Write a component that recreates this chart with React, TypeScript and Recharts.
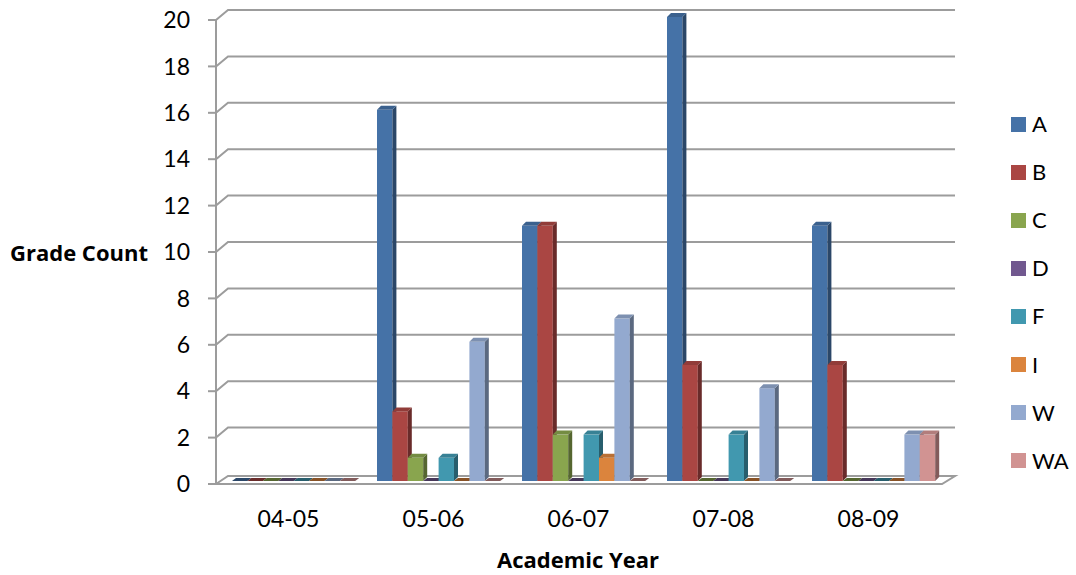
import React from 'react';
import { BarChart, Bar, XAxis, YAxis, CartesianGrid, Label } from 'recharts';

const categories = ['04-05', '05-06', '06-07', '07-08', '08-09'];
const gradeA = [0, 16, 11, 20, 11];
const gradeB = [0, 3, 11, 5, 5];
const gradeC = [0, 1, 2, 0, 0];
const gradeD = [0, 0, 0, 0, 0];
const gradeF = [0, 1, 2, 2, 0];
const gradeI = [0, 0, 1, 0, 0];
const gradeW = [0, 6, 7, 4, 2];
const gradeWA = [0, 0, 0, 0, 2];
const yTicks = [0, 2, 4, 6, 8, 10, 12, 14, 16, 18, 20];

const seriesNames = ['A', 'B', 'C', 'D', 'F', 'I', 'W', 'WA'];
const seriesValues = [gradeA, gradeB, gradeC, gradeD, gradeF, gradeI, gradeW, gradeWA];
const seriesColors = ['#4572A7', '#AA4643', '#89A54E', '#71588F', '#4198AF', '#DB843D', '#93A9CF', '#D19392'];

const data = categories.map((c, i) => {
  const row: any = { year: c };
  seriesNames.forEach((s, j) => {
    row[s] = seriesValues[j][i];
  });
  return row;
});

const FONT = 'Lato, "Open Sans", sans-serif';
const TITLE_FONT = '"Open Sans", Lato, sans-serif';
const GRID = '#9c9c9c';
const DX = 12;
const DY = 9;

function shade(hex: string, f: number) {
  const n = parseInt(hex.slice(1), 16);
  const r = Math.round(((n >> 16) & 255) * f);
  const g = Math.round(((n >> 8) & 255) * f);
  const b = Math.round((n & 255) * f);
  return `rgb(${r},${g},${b})`;
}

const makeShape = (color: string) => (props: any) => {
  const { x, y, width, height } = props;
  const d = 4;
  const bx = x + 5;
  const by = y - 3;
  const side = shade(color, 0.62);
  const top = shade(color, 0.85);
  if (!height || height < 1) {
    const base = by + (height || 0);
    return (
      <polygon
        points={`${bx},${base} ${bx + width},${base} ${bx + width + d},${base - 3} ${bx + d},${base - 3}`}
        fill={side}
      />
    );
  }
  return (
    <g>
      <rect x={bx} y={by} width={width} height={height} fill={color} />
      <polygon
        points={`${bx + width},${by} ${bx + width + d},${by - d} ${bx + width + d},${by + height - d} ${bx + width},${by + height}`}
        fill={side}
      />
      <polygon
        points={`${bx},${by} ${bx + d},${by - d} ${bx + width + d},${by - d} ${bx + width},${by}`}
        fill={top}
      />
    </g>
  );
};

const gridLine = (props: any) => {
  const { x1, y1, x2 } = props;
  const isFloor = Math.abs(y1 - 484) < 2;
  if (isFloor) {
    return (
      <g key={props.key}>
        <path
          d={`M${x1},${y1} L${x1 + DX},${y1 - DY + 1} L${x2 + DX + 2},${y1 - DY + 1} L${x2 + 1},${y1} Z`}
          fill="none"
          stroke={GRID}
          strokeWidth={2}
        />
      </g>
    );
  }
  return (
    <path
      key={props.key}
      d={`M${x1},${y1} L${x1 + DX},${y1 - DY - 1} L${x2 + DX + 2},${y1 - DY - 1}`}
      fill="none"
      stroke={GRID}
      strokeWidth={2}
    />
  );
};

const XTick = (props: any) => {
  const { x, payload } = props;
  return (
    <text x={x} y={519} dy="0.35em" textAnchor="middle" fontFamily={FONT} fontSize={23} fill="#000">
      {payload.value}
    </text>
  );
};

export default function App() {
  return (
    <div style={{ position: 'absolute', left: 0, top: 0, width: 1076, height: 575, background: '#fff' }}>
      <BarChart
        width={1076}
        height={575}
        data={data}
        margin={{ top: 20, right: 135, bottom: 0, left: 0 }}
        barGap={0}
        barSize={15.4}
      >
        <CartesianGrid vertical={false} horizontal={gridLine} />
        <XAxis
          dataKey="year"
          axisLine={false}
          tickLine={false}
          height={91}
          tick={<XTick />}
          interval={0}
        >
          <Label
            content={() => (
              <text x={578} y={560} dy="0.35em" textAnchor="middle" fontFamily={TITLE_FONT} fontWeight="bold" fontSize={22} fill="#000">
                Academic Year
              </text>
            )}
          />
        </XAxis>
        <YAxis
          width={216}
          domain={[0, 20]}
          ticks={yTicks}
          interval={0}
          axisLine={{ stroke: GRID, strokeWidth: 2 }}
          tickLine={{ stroke: GRID, strokeWidth: 2 }}
          tickSize={8}
          tickMargin={18}
          tick={{ fontFamily: FONT, fontSize: 23, fill: '#000' }}
        >
          <Label
            content={() => (
              <text x={79} y={253} dy="0.35em" textAnchor="middle" fontFamily={TITLE_FONT} fontWeight="bold" fontSize={22} fill="#000">
                Grade Count
              </text>
            )}
          />
        </YAxis>
        {seriesNames.map((s, j) => (
          <Bar key={s} dataKey={s} fill={seriesColors[j]} isAnimationActive={false} shape={makeShape(seriesColors[j])} />
        ))}
      </BarChart>
      <div style={{ position: 'absolute', left: 1011, top: 100, fontFamily: FONT, fontSize: 22 }}>
        {seriesNames.map((s, j) => (
          <div key={s} style={{ display: 'flex', alignItems: 'center', height: 48.1 }}>
            <div style={{ width: 15, height: 15, background: seriesColors[j], marginRight: 6 }} />
            <span style={{ lineHeight: '22px' }}>{s}</span>
          </div>
        ))}
      </div>
    </div>
  );
}
